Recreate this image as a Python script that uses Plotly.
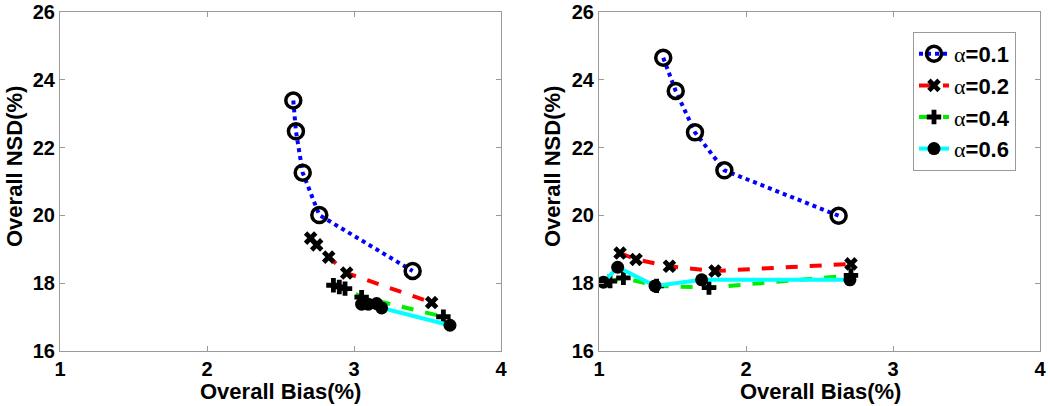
import plotly.graph_objects as go

# ---- data: left panel ----
L_a01_x = [2.587, 2.605, 2.651, 2.764, 3.399]
L_a01_y = [23.39, 22.48, 21.26, 20.01, 18.36]
L_a02_x = [2.705, 2.746, 2.828, 2.950, 3.528]
L_a02_y = [19.33, 19.13, 18.77, 18.30, 17.43]
L_a04_x = [2.860, 2.900, 2.939, 3.052, 3.608]
L_a04_y = [17.94, 17.89, 17.84, 17.59, 17.01]
L_a06_x = [3.052, 3.097, 3.154, 3.188, 3.653]
L_a06_y = [17.38, 17.38, 17.40, 17.27, 16.76]

# ---- data: right panel ----
R_a01_x = [1.437, 1.522, 1.653, 1.853, 2.630]
R_a01_y = [24.65, 23.67, 22.45, 21.33, 19.99]
R_a02_x = [1.143, 1.252, 1.479, 1.789, 2.714]
R_a02_y = [18.89, 18.70, 18.50, 18.36, 18.57]
R_a04_x = [1.075, 1.166, 1.392, 1.748, 2.714]
R_a04_y = [18.06, 18.16, 17.92, 17.87, 18.23]
R_a06_x = [1.030, 1.127, 1.381, 1.698, 2.707]
R_a06_y = [18.03, 18.47, 17.92, 18.10, 18.10]

labels = ["0.1", "0.2", "0.4", "0.6"]
x_ticks = [1, 2, 3, 4]
y_ticks = [16, 18, 20, 22, 24, 26]

styles = [
    dict(color="#0000ff", dash="dot", symbol="circle-open", msize=15, mline=3.5),
    dict(color="#ff0000", dash="dash", symbol="x", msize=12, mline=0),
    dict(color="#00ee00", dash="dash", symbol="cross", msize=12, mline=0),
    dict(color="#00ffff", dash="solid", symbol="circle", msize=13, mline=0),
]

left = [(L_a01_x, L_a01_y), (L_a02_x, L_a02_y), (L_a04_x, L_a04_y), (L_a06_x, L_a06_y)]
right = [(R_a01_x, R_a01_y), (R_a02_x, R_a02_y), (R_a04_x, R_a04_y), (R_a06_x, R_a06_y)]

fig = go.Figure()
for panel, (xa, ya, show) in [(left, ("x", "y", False)), (right, ("x2", "y2", True))]:
    for (xs, ys), st, lab in zip(panel, styles, labels):
        fig.add_trace(go.Scatter(
            x=xs, y=ys, xaxis=xa, yaxis=ya, mode="lines+markers",
            name="<span style='font-family:Liberation Serif;font-weight:normal'>α</span>=" + lab,
            showlegend=show,
            line=dict(color=st["color"], dash=st["dash"], width=4),
            marker=dict(symbol=st["symbol"], size=st["msize"], color="black",
                        line=dict(color="black", width=st["mline"])),
        ))

tickfont = dict(family="Liberation Sans", size=20, color="black", weight="bold")
axcommon = dict(showgrid=False, zeroline=False, showline=True, linecolor="#9a9a9a",
                linewidth=1, mirror="ticks", ticks="inside", ticklen=5, tickcolor="#9a9a9a",
                tickfont=tickfont, automargin=False, ticklabeloverflow="allow")

fig.update_layout(
    width=1050, height=406, paper_bgcolor="white", plot_bgcolor="white",
    margin=dict(l=0, r=0, t=0, b=0),
    xaxis=dict(domain=[60/1050, 501/1050], range=[1, 4], tickvals=x_ticks, anchor="y", **axcommon),
    yaxis=dict(domain=[1-351/406, 1-12/406], range=[16, 26], tickvals=y_ticks, anchor="x", **axcommon),
    xaxis2=dict(domain=[599/1050, 1040/1050], range=[1, 4], tickvals=x_ticks, anchor="y2", **axcommon),
    yaxis2=dict(domain=[1-351/406, 1-12/406], range=[16, 26], tickvals=y_ticks, anchor="x2", **axcommon),
    legend=dict(x=913/1050, y=1-32/406, xanchor="left", yanchor="top",
                bordercolor="#9a9a9a", borderwidth=1, bgcolor="white",
                font=dict(family="Liberation Sans", size=22, color="black", weight="bold"),
                itemwidth=30, tracegroupgap=0),
    font=dict(family="Liberation Sans"),
)

titlefont = dict(family="Liberation Sans", size=22, color="black", weight="bold")
for xc in [280, 820]:
    fig.add_annotation(text="Overall Bias(%)", x=xc/1050, y=1-391/406, xref="paper", yref="paper",
                       showarrow=False, font=titlefont, xanchor="center", yanchor="middle")
for xc in [14, 552]:
    fig.add_annotation(text="Overall NSD(%)", x=xc/1050, y=1-167/406, xref="paper", yref="paper",
                       showarrow=False, font=titlefont, textangle=-90, xanchor="center", yanchor="middle")

fig.write_html("out.html", config={"displayModeBar": False},
               post_script="document.body.style.margin='0';document.body.style.overflow='hidden';")
